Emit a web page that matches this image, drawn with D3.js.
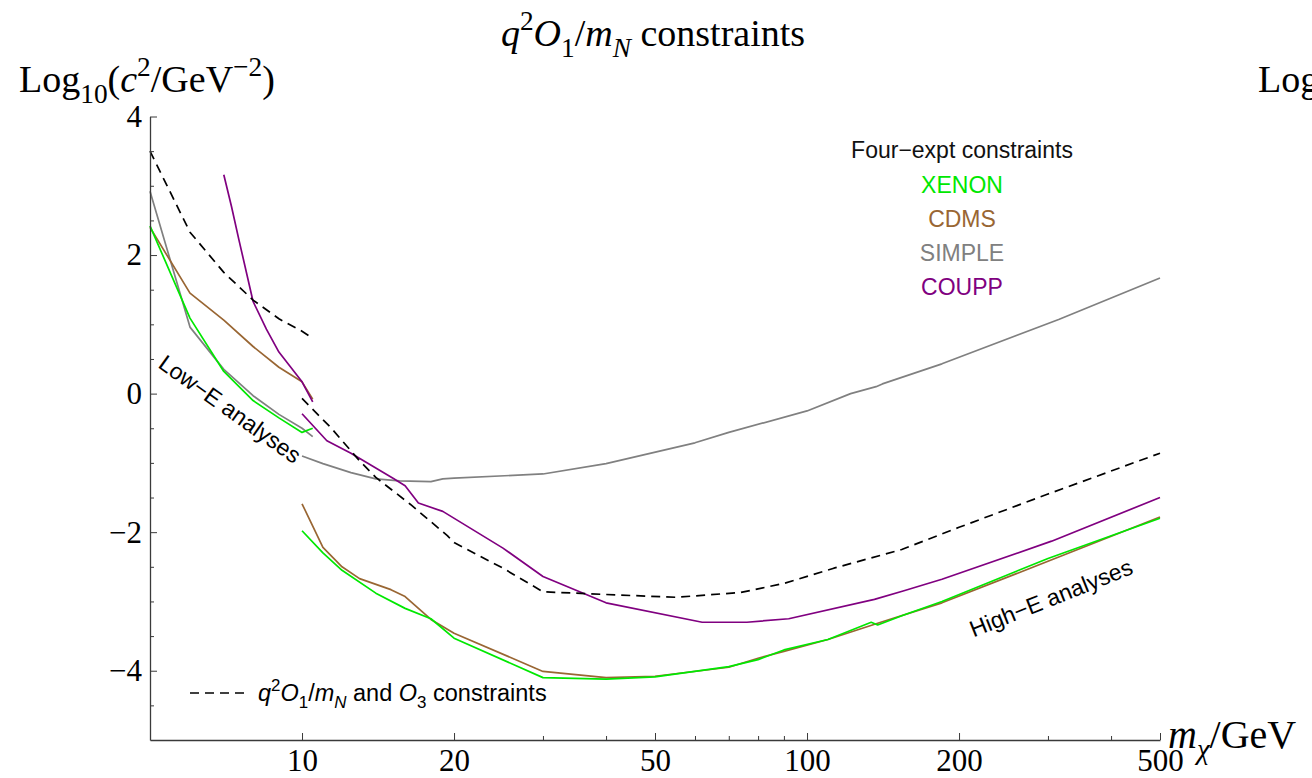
<!DOCTYPE html>
<html>
<head>
<meta charset="utf-8">
<script src="https://cdn.jsdelivr.net/npm/d3@7"></script>
<style>
  body { margin: 0; background: #fff; }
  svg { display: block; }
</style>
</head>
<body>
<svg id="chart" width="1312" height="778"></svg>
<script>
// Dark-matter mass m_chi (GeV) vs Log10(c^2 / GeV^-2)
// Low-energy analyses (m_chi from 5 to 10.5 GeV)
const xenonLow  = [[5, 2.42], [6, 1.09], [7, 0.32], [8, -0.1], [9, -0.35], [10, -0.56], [10.5, -0.5]];
const cdmsLow   = [[5, 2.4], [6, 1.45], [7, 1.06], [8, 0.68], [9, 0.38], [10, 0.17], [10.5, -0.08]];
const simpleLow = [[5, 2.92], [6, 0.96], [7, 0.35], [8, -0.03], [9, -0.3], [10, -0.5], [10.5, -0.62]];
const couppLow  = [[7, 3.16], [7.25, 2.7], [7.5, 2.22], [8, 1.33], [8.5, 0.93], [9, 0.6], [9.5, 0.38], [10, 0.17], [10.5, -0.12]];
const combinedLow = [[5, 3.5], [6, 2.33], [7, 1.75], [8, 1.35], [9, 1.08], [10, 0.9], [10.5, 0.8]];

// High-energy analyses (m_chi from 10 to 500 GeV)
const xenonHigh = [[10, -1.98], [11, -2.3], [12, -2.55], [14, -2.88], [16, -3.1], [18, -3.25], [20, -3.53],
  [30, -4.1], [40, -4.12], [50, -4.09], [70, -3.94], [80, -3.84], [90, -3.7], [110, -3.55],
  [134, -3.3], [138, -3.34], [155, -3.2], [185, -3.0], [300, -2.38], [500, -1.8]];
const cdmsHigh = [[10, -1.59], [11, -2.22], [12, -2.5], [13, -2.67], [15, -2.83], [16, -2.93], [18, -3.26],
  [20, -3.46], [30, -4.01], [40, -4.1], [50, -4.08], [70, -3.95], [80, -3.82], [90, -3.72],
  [110, -3.55], [140, -3.3], [185, -3.02], [300, -2.42], [500, -1.78]];
const simpleHigh = [[10, -0.9], [11, -1.01], [12.5, -1.14], [14, -1.23], [15.6, -1.26], [18, -1.27], [19, -1.23],
  [20, -1.22], [30, -1.16], [40, -1.01], [60, -0.71], [70, -0.56], [100, -0.25], [122, 0.0],
  [137, 0.1], [141, 0.14], [185, 0.43], [315, 1.07], [500, 1.67]];
const couppHigh = [[10, -0.29], [11.2, -0.68], [12.5, -0.86], [15.2, -1.23], [16, -1.33], [17, -1.58], [19, -1.7],
  [25, -2.23], [30, -2.64], [40, -3.02], [62, -3.3], [76, -3.3], [92, -3.25], [136, -2.97],
  [155, -2.85], [185, -2.68], [305, -2.13], [500, -1.5]];
const combinedHigh = [[10, -0.07], [11.4, -0.49], [13, -0.97], [14, -1.21], [16.4, -1.6], [19.4, -2.05], [20, -2.15],
  [25, -2.52], [30, -2.86], [40, -2.9], [55, -2.94], [74, -2.87], [90, -2.74], [113, -2.52],
  [154, -2.25], [200, -1.93], [300, -1.45], [500, -0.86]];

// Axis ticks
const xMajorTicks = [10, 20, 50, 100, 200, 500];
const xMinorTicks = [30, 40, 60, 70, 80, 90, 300, 400];
const yMajorTicks = [-4, -2, 0, 2, 4];
const yMinorTicks = [-4.5, -3.5, -3, -2.5, -1.5, -1, -0.5, 0.5, 1, 1.5, 2.5, 3, 3.5];

// Legend entries
const legendNames = ["XENON", "CDMS", "SIMPLE", "COUPP"];

const colors = {
  XENON: "#00e800",
  CDMS: "#996633",
  SIMPLE: "#808080",
  COUPP: "#800080",
  combined: "#000000"
};

const svg = d3.select("#chart");
const serif = "'Liberation Serif', 'Times New Roman', serif";
const sans = "'Liberation Sans', Arial, Helvetica, sans-serif";

const x = d3.scaleLog().domain([5, 500]).range([150, 1160]);
const y = d3.scaleLinear().domain([-5, 4]).range([740, 116.5]);

const line = d3.line().x(d => x(d[0])).y(d => y(d[1]));

// Curves
const series = [
  { data: simpleLow, color: colors.SIMPLE },
  { data: simpleHigh, color: colors.SIMPLE },
  { data: cdmsLow, color: colors.CDMS },
  { data: cdmsHigh, color: colors.CDMS },
  { data: xenonLow, color: colors.XENON },
  { data: xenonHigh, color: colors.XENON },
  { data: couppLow, color: colors.COUPP },
  { data: couppHigh, color: colors.COUPP },
  { data: combinedLow, color: colors.combined, dash: "9,6" },
  { data: combinedHigh, color: colors.combined, dash: "9,6" }
];

const plot = svg.append("g");
plot.selectAll("path.curve")
  .data(series)
  .join("path")
  .attr("class", "curve")
  .attr("d", d => line(d.data))
  .attr("fill", "none")
  .attr("stroke", d => d.color)
  .attr("stroke-width", 1.7)
  .attr("stroke-linejoin", "round")
  .attr("stroke-dasharray", d => d.dash || null);

// Axes (ticks point inward)
const axisColor = "#3a3a3a";
const xAxis = svg.append("g").attr("transform", `translate(0,${y(-5)})`)
  .call(d3.axisBottom(x).tickValues(xMajorTicks).tickFormat(d3.format("d")).tickSizeInner(-7).tickSizeOuter(0).tickPadding(9));
xAxis.select(".domain").attr("stroke", axisColor).attr("stroke-width", 1.3);
xAxis.selectAll(".tick line").attr("stroke", axisColor);
xAxis.selectAll(".tick text").attr("font-family", serif).attr("font-size", 31).attr("fill", "#000").attr("dy", "0.71em");

const xMinor = svg.append("g").attr("transform", `translate(0,${y(-5)})`)
  .call(d3.axisBottom(x).tickValues(xMinorTicks).tickFormat("").tickSizeInner(-4).tickSizeOuter(0));
xMinor.select(".domain").remove();
xMinor.selectAll(".tick line").attr("stroke", axisColor);

const yAxis = svg.append("g").attr("transform", `translate(${x(5)},0)`)
  .call(d3.axisLeft(y).tickValues(yMajorTicks).tickFormat(d => d < 0 ? "\u2212" + Math.abs(d) : d).tickSizeInner(-7).tickSizeOuter(0).tickPadding(8));
yAxis.select(".domain").attr("stroke", axisColor).attr("stroke-width", 1.3);
yAxis.selectAll(".tick line").attr("stroke", axisColor);
yAxis.selectAll(".tick text").attr("font-family", serif).attr("font-size", 31).attr("fill", "#000");

const yMinor = svg.append("g").attr("transform", `translate(${x(5)},0)`)
  .call(d3.axisLeft(y).tickValues(yMinorTicks).tickFormat("").tickSizeInner(-4).tickSizeOuter(0));
yMinor.select(".domain").remove();
yMinor.selectAll(".tick line").attr("stroke", axisColor);

// Rich text helper: segments with optional italic and sub/superscript
function richText(parent, px, py, segs, opts) {
  const t = parent.append("text")
    .attr("x", px).attr("y", py)
    .attr("font-family", opts.family)
    .attr("font-size", opts.size)
    .attr("fill", opts.fill || "#000")
    .attr("text-anchor", opts.anchor || "start");
  let shift = 0;
  segs.forEach(s => {
    const target = s.pos === "sub" ? 0.28 : s.pos === "sup" ? -0.42 : 0;
    const sp = t.append("tspan").text(s.t);
    const dy = (target - shift) * opts.size;
    if (dy !== 0) sp.attr("dy", dy);
    if (s.pos) sp.attr("font-size", opts.size * 0.72);
    if (s.i) sp.attr("font-style", "italic");
    shift = target;
  });
  return t;
}

// Title
richText(svg, 653, 46, [
  { t: "q", i: true }, { t: "2", pos: "sup" }, { t: "O", i: true }, { t: "1", pos: "sub" },
  { t: "/" }, { t: "m", i: true }, { t: "N", i: true, pos: "sub" }, { t: " constraints" }
], { family: serif, size: 38, anchor: "middle" });

// Y-axis label
const yLabelSegs = [
  { t: "Log" }, { t: "10", pos: "sub" }, { t: "(" }, { t: "c", i: true }, { t: "2", pos: "sup" },
  { t: "/GeV" }, { t: "\u22122", pos: "sup" }, { t: ")" }
];
richText(svg, 19, 92, yLabelSegs, { family: serif, size: 38 });
// Neighbouring panel's axis label, running off the right edge
richText(svg, 1258, 92, yLabelSegs, { family: serif, size: 38 });

// X-axis label
richText(svg, 1168, 748, [
  { t: "m", i: true }, { t: "\u03c7", i: true, pos: "sub" }, { t: "/GeV" }
], { family: serif, size: 40 });

// Legend for the four experiments
const legend = svg.append("g");
legend.append("text")
  .attr("x", 962).attr("y", 158)
  .attr("text-anchor", "middle")
  .attr("font-family", sans).attr("font-size", 23)
  .attr("fill", "#111")
  .text("Four\u2212expt constraints");
legend.selectAll("text.entry")
  .data(legendNames)
  .join("text")
  .attr("class", "entry")
  .attr("x", 962)
  .attr("y", (d, i) => 193 + i * 34)
  .attr("text-anchor", "middle")
  .attr("font-family", sans).attr("font-size", 23)
  .attr("fill", d => colors[d])
  .text(d => d);

// Legend for the combined dashed constraint
svg.append("line")
  .attr("x1", 190).attr("x2", 246)
  .attr("y1", 693).attr("y2", 693)
  .attr("stroke", "#000").attr("stroke-width", 1.7)
  .attr("stroke-dasharray", "9,6");
richText(svg, 258, 701, [
  { t: "q", i: true }, { t: "2", pos: "sup" }, { t: "O", i: true }, { t: "1", pos: "sub" },
  { t: "/" }, { t: "m", i: true }, { t: "N", i: true, pos: "sub" }, { t: " and " },
  { t: "O", i: true }, { t: "3", pos: "sub" }, { t: " constraints" }
], { family: sans, size: 23.5 });

// Region annotations along the curves
svg.append("text")
  .attr("transform", "translate(230,409) rotate(35.5)")
  .attr("text-anchor", "middle").attr("dominant-baseline", "central")
  .attr("font-family", sans).attr("font-size", 23).attr("fill", "#000")
  .text("Low\u2212E analyses");
svg.append("text")
  .attr("transform", "translate(1051,598) rotate(-21.8)")
  .attr("text-anchor", "middle").attr("dominant-baseline", "central")
  .attr("font-family", sans).attr("font-size", 23).attr("fill", "#000")
  .text("High\u2212E analyses");
</script>
</body>
</html>
